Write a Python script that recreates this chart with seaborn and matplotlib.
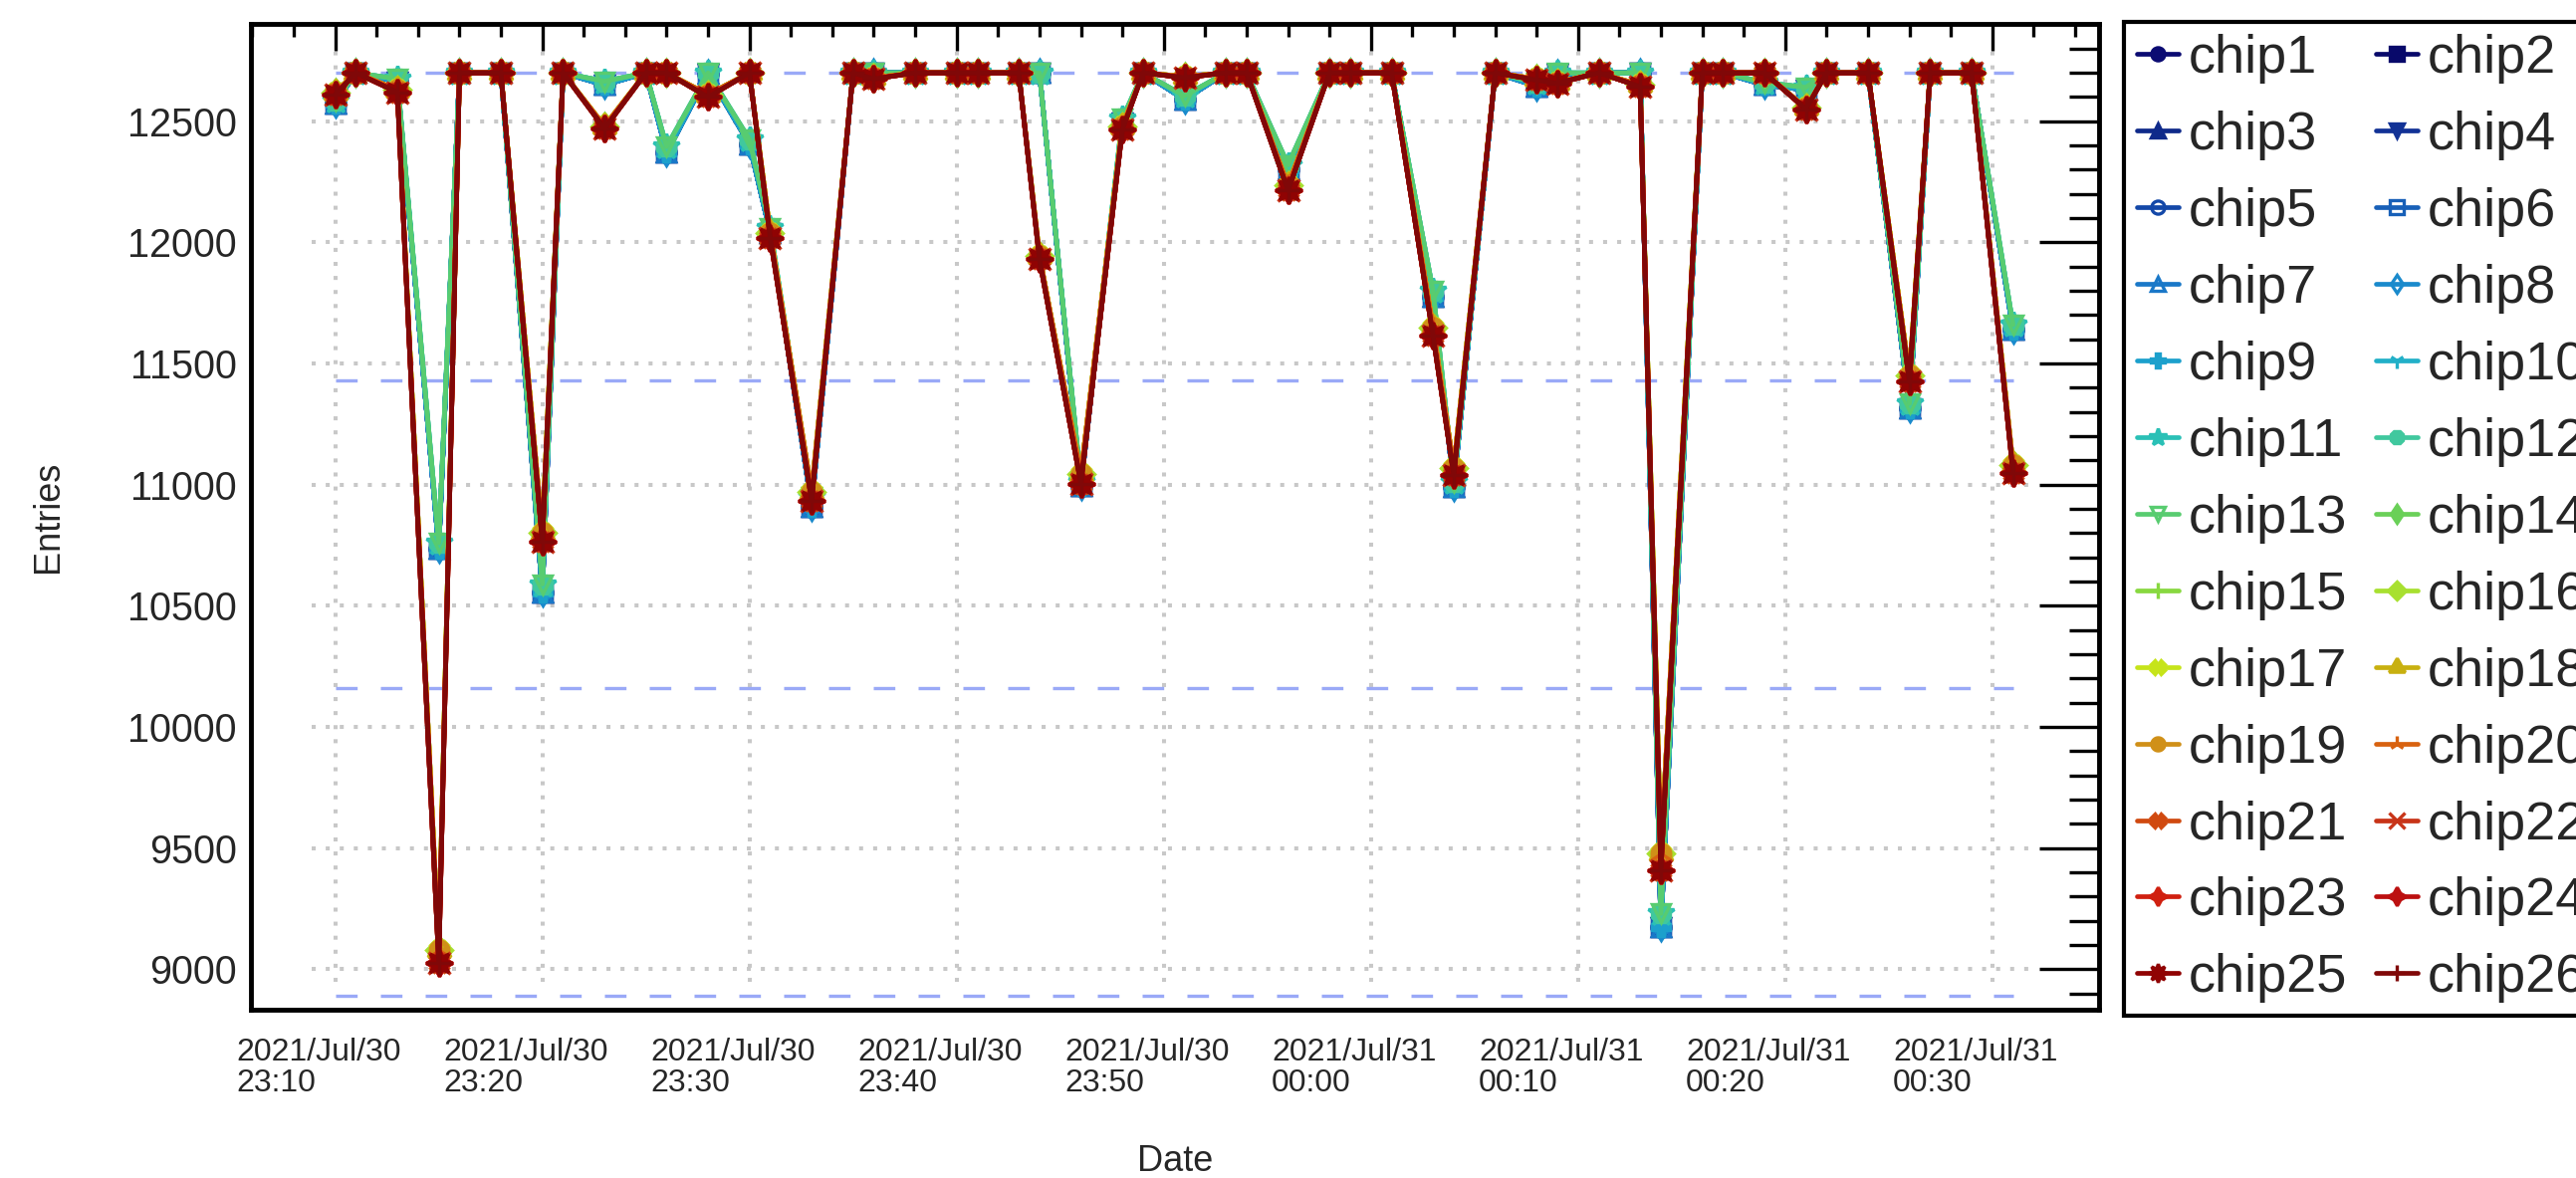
import numpy as np
import pandas as pd
import matplotlib
matplotlib.use("Agg")
import matplotlib.pyplot as plt
import matplotlib.dates as mdates
import matplotlib.transforms as mtransforms
from matplotlib.ticker import MultipleLocator, FixedLocator
import seaborn as sns

# ---------------- data ----------------
times = [
    "2021-07-30 23:10", "2021-07-30 23:11", "2021-07-30 23:13", "2021-07-30 23:15",
    "2021-07-30 23:16", "2021-07-30 23:18", "2021-07-30 23:20", "2021-07-30 23:21",
    "2021-07-30 23:23", "2021-07-30 23:25", "2021-07-30 23:26", "2021-07-30 23:28",
    "2021-07-30 23:30", "2021-07-30 23:31", "2021-07-30 23:33", "2021-07-30 23:35",
    "2021-07-30 23:36", "2021-07-30 23:38", "2021-07-30 23:40", "2021-07-30 23:41",
    "2021-07-30 23:43", "2021-07-30 23:44", "2021-07-30 23:46", "2021-07-30 23:48",
    "2021-07-30 23:49", "2021-07-30 23:51", "2021-07-30 23:53", "2021-07-30 23:54",
    "2021-07-30 23:56", "2021-07-30 23:58", "2021-07-30 23:59", "2021-07-31 00:01",
    "2021-07-31 00:03", "2021-07-31 00:04", "2021-07-31 00:06", "2021-07-31 00:08",
    "2021-07-31 00:09", "2021-07-31 00:11", "2021-07-31 00:13", "2021-07-31 00:14",
    "2021-07-31 00:16", "2021-07-31 00:17", "2021-07-31 00:19", "2021-07-31 00:21",
    "2021-07-31 00:22", "2021-07-31 00:24", "2021-07-31 00:26", "2021-07-31 00:27",
    "2021-07-31 00:29", "2021-07-31 00:31",
]

# chips 1-9 (blue markers)
entries_chips_1_9 = [
    12575, 12700, 12665, 10735, 12700, 12700, 10555, 12700, 12650, 12700,
    12370, 12695, 12405, 12040, 10910, 12700, 12700, 12700, 12700, 12700,
    12700, 12700, 10995, 12495, 12700, 12590, 12700, 12700, 12300, 12700,
    12700, 12700, 11775, 10990, 12700, 12645, 12695, 12700, 12700, 9175,
    12700, 12700, 12650, 12630, 12700, 12700, 11315, 12700, 12700, 11640,
]
# chips 10-13 (cyan / green)
entries_chips_10_13 = [
    12585, 12700, 12675, 10760, 12700, 12700, 10590, 12700, 12665, 12700,
    12395, 12700, 12425, 12060, 10950, 12700, 12700, 12700, 12700, 12700,
    12700, 12700, 11010, 12510, 12700, 12605, 12700, 12700, 12320, 12700,
    12700, 12700, 11800, 11010, 12700, 12660, 12700, 12700, 12700, 9230,
    12700, 12700, 12660, 12640, 12700, 12700, 11335, 12700, 12700, 11660,
]
# chips 14-20 (yellow / orange)
entries_chips_14_20 = [
    12620, 12700, 12630, 9080, 12700, 12700, 10800, 12700, 12480, 12700,
    12700, 12610, 12700, 12040, 10970, 12700, 12680, 12700, 12700, 12700,
    12700, 11945, 11045, 12480, 12700, 12685, 12700, 12700, 12235, 12700,
    12700, 12700, 11650, 11070, 12700, 12675, 12660, 12700, 12650, 9480,
    12700, 12700, 12700, 12555, 12700, 12700, 11450, 12700, 12700, 11080,
]
# chips 21-26 (red)
entries_chips_21_26 = [
    12610, 12700, 12620, 9025, 12700, 12700, 10765, 12700, 12470, 12700,
    12700, 12600, 12700, 12020, 10935, 12700, 12675, 12700, 12700, 12700,
    12700, 11930, 11005, 12465, 12700, 12680, 12700, 12700, 12215, 12700,
    12700, 12700, 11615, 11040, 12700, 12670, 12657, 12700, 12643, 9410,
    12700, 12700, 12700, 12550, 12700, 12700, 11425, 12700, 12700, 11050,
]

chip_names = ["chip%d" % i for i in range(1, 27)]
chip_group = (["1_9"] * 9) + (["10_13"] * 4) + (["14_20"] * 7) + (["21_26"] * 6)
group_values = {
    "1_9": entries_chips_1_9,
    "10_13": entries_chips_10_13,
    "14_20": entries_chips_14_20,
    "21_26": entries_chips_21_26,
}
reference_levels = [12700, 11430, 10160, 8890]

chip_colors = [
    "#0b0b72", "#08096a", "#0f2a8a", "#123296", "#1448a8", "#1860b8",
    "#1a78c8", "#1a8acc", "#1ca0cc", "#22b0c8", "#2ac0b6", "#40c89e",
    "#58cc70", "#6ad058", "#88d840", "#a8e030", "#c6e41a", "#c8b010",
    "#d09018", "#d86210", "#d04a10", "#c83418", "#d02010", "#bc1010",
    "#900303", "#800808",
]
chip_markers = [
    "o", "s", "^", "v", "o", "s", "^", "d", "P", "1", "*", "8", "v",
    "d", "+", "D", "X", (3, 1, 0), r"$\oplus$", "2", "X", "x", (4, 1, 0),
    (4, 1, 0), (8, 1, 0), "+",
]
open_markers = {5, 6, 7, 8, 13}  # chip numbers drawn hollow

# ---------------- long table ----------------
t = pd.to_datetime(times)
rows = []
for name, grp in zip(chip_names, chip_group):
    rows.append(pd.DataFrame({"time": t, "entries": group_values[grp], "chip": name}))
df = pd.concat(rows, ignore_index=True)

# ---------------- style ----------------
sns.set_theme(style="white")
plt.rcParams["font.family"] = ["Liberation Sans", "DejaVu Sans"]
plt.rcParams["axes.linewidth"] = 3.5

W, H = 2587, 1183
fig = plt.figure(figsize=(W / 100, H / 100), dpi=100)
ax_l, ax_r, ax_t, ax_b = 251.7 / W, 2107.6 / W, 1 - 24 / H, 1 - 1014 / H
ax = fig.add_axes([ax_l, ax_b, ax_r - ax_l, ax_t - ax_b])

x0 = pd.Timestamp("2021-07-30 23:05:55")
x1 = pd.Timestamp("2021-07-31 00:35:08")
ax.set_xlim(x0, x1)
ax.set_ylim(8833, 12902)

# grid (ROOT style: dotted, stops at the major tick ends)
major_x = pd.date_range("2021-07-30 23:10", "2021-07-31 00:30", freq="10min")
major_y = np.arange(9000, 12501, 500)
grid_kw = dict(color="#c8c8c8", lw=2.9, ls=(0, (1, 2.5)), zorder=0.5)
for v in major_y:
    ax.axhline(v, xmin=0.033, xmax=0.967, **grid_kw)
for d in major_x:
    ax.axvline(d, ymin=0.028, ymax=0.972, **grid_kw)

# reference dashed levels
for lev in reference_levels:
    ax.hlines(lev, t[0], t[-1], colors="#9aa9f7", lw=2.4,
              linestyles=(0, (6.5, 7)), zorder=1)

# series
for i, name in enumerate(chip_names):
    num = i + 1
    c = chip_colors[i]
    m = chip_markers[i]
    sub = df[df["chip"] == name]
    ms = 13.5
    if m in ("1", "2", "+", "x"):
        ms = 16
    if isinstance(m, tuple) or m == "*":
        ms = 19
    sns.lineplot(
        data=sub, x="time", y="entries", ax=ax, color=c, marker=m,
        markersize=ms, markeredgecolor=c,
        markerfacecolor=("none" if num in open_markers else c),
        markeredgewidth=2.4, linewidth=3.4, estimator=None, sort=False,
        label=name, zorder=2 + i * 0.01,
    )

# axes formatting
ax.set_xlabel("Date", fontsize=26)
ax.set_ylabel("Entries", fontsize=26)
ax.xaxis.set_label_coords(0.5, -0.136)
ax.yaxis.set_label_coords(-0.100, 0.5)

ax.xaxis.set_major_locator(FixedLocator(mdates.date2num(major_x)))
ax.xaxis.set_minor_locator(mdates.MinuteLocator(byminute=range(0, 60, 2)))
ax.xaxis.set_major_formatter(mdates.DateFormatter("%Y/%b/%d\n%H:%M"))
ax.yaxis.set_major_locator(MultipleLocator(500))
ax.yaxis.set_minor_locator(MultipleLocator(100))

ax.tick_params(which="both", direction="in", top=True, right=True,
               width=2.4, color="black")
ax.tick_params(axis="y", which="major", length=43, labelsize=28.5, pad=10)
ax.tick_params(axis="y", which="minor", length=21.5)
ax.tick_params(axis="x", which="major", length=19.5, labelsize=23, pad=20)
ax.tick_params(axis="x", which="minor", length=9.5)
for s in ax.spines.values():
    s.set_color("black")
    s.set_linewidth(3.5)

offset = mtransforms.ScaledTranslation(-17 / 100, 0, fig.dpi_scale_trans)
for lab in ax.get_xticklabels():
    lab.set_ha("center")
    lab.set_multialignment("left")
    lab.set_linespacing(1.05)
    lab.set_transform(lab.get_transform() + offset)

# legend: two columns, filled row by row
handles, labels = ax.get_legend_handles_labels()
if ax.get_legend() is not None:
    ax.get_legend().remove()
order = list(range(0, 26, 2)) + list(range(1, 26, 2))
leg = fig.legend(
    [handles[k] for k in order], [labels[k] for k in order],
    loc="upper left", bbox_to_anchor=(2133 / W, 1 - 21.7 / H),
    bbox_transform=fig.transFigure, ncol=2, fontsize=39,
    frameon=True, fancybox=False, shadow=False, framealpha=1,
    edgecolor="black", borderpad=0.233, labelspacing=0.497,
    handlelength=0.78, handletextpad=0.19, columnspacing=0.52,
    borderaxespad=0, markerscale=0.7,
)
leg.get_frame().set_linewidth(3.0)

fig.savefig("out.png", dpi=100)
